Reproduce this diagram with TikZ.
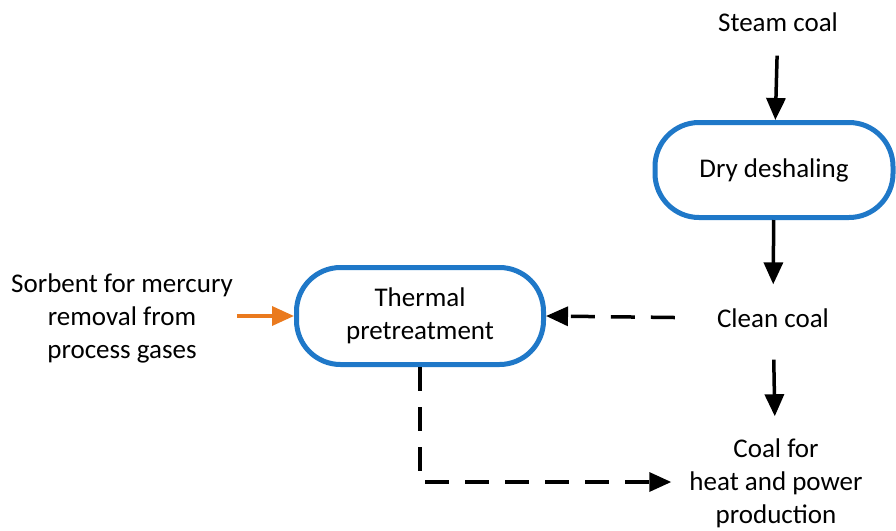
\documentclass[tikz,border=0pt]{standalone}
\usepackage{fontspec}
\setmainfont{Carlito}
\usetikzlibrary{arrows.meta,positioning}
\definecolor{unitblue}{HTML}{1F78C8}
\definecolor{sorbentorange}{HTML}{EA7A1E}

\begin{document}
\begin{tikzpicture}[x=1pt,y=-1pt,>={Triangle[length=22pt,width=19pt]},
  font=\fontsize{27}{33}\selectfont,
  unit/.style={draw=unitblue,line width=5pt,rounded corners=44pt,fill=white,align=center,inner sep=0pt},
  stream/.style={align=center,inner sep=0pt},
  flow/.style={->,line width=3.5pt},
  recycle/.style={flow,dash pattern=on 24pt off 16pt}]
  \useasboundingbox (0,0) rectangle (896,530);

  % main coal line
  \node[stream] (steam) at (778,22) {Steam coal};
  \node[unit,minimum width=238pt,minimum height=95pt] (dry) at (774,170) {Dry deshaling};
  \node[stream] (clean) at (773,318) {Clean coal};
  \node[stream] (power) at (776,483) {Coal for\\heat and power\\production};

  % pretreatment branch
  \node[unit,minimum width=247pt,minimum height=97pt] (thermal) at (420,316) {Thermal\\pretreatment};
  \node[stream] (sorbent) at (122,318) {Sorbent for mercury\\removal from\\process gases};

  \draw[flow,shorten <=24pt] (steam) -- (dry);
  \draw[flow,shorten >=24pt] (dry) -- (clean);
  \draw[flow,shorten <=32pt,shorten >=22pt] (clean) -- (power);
  \draw[recycle,shorten <=42pt] (clean.west) -- (thermal.east);
  \draw[->,line width=3.5pt,sorbentorange,shorten <=4pt] (sorbent.east |- thermal.west) -- (thermal.west);
  \draw[recycle,shorten >=18pt] (thermal.south) |- ([yshift=1pt]power.west);
\end{tikzpicture}
\end{document}
